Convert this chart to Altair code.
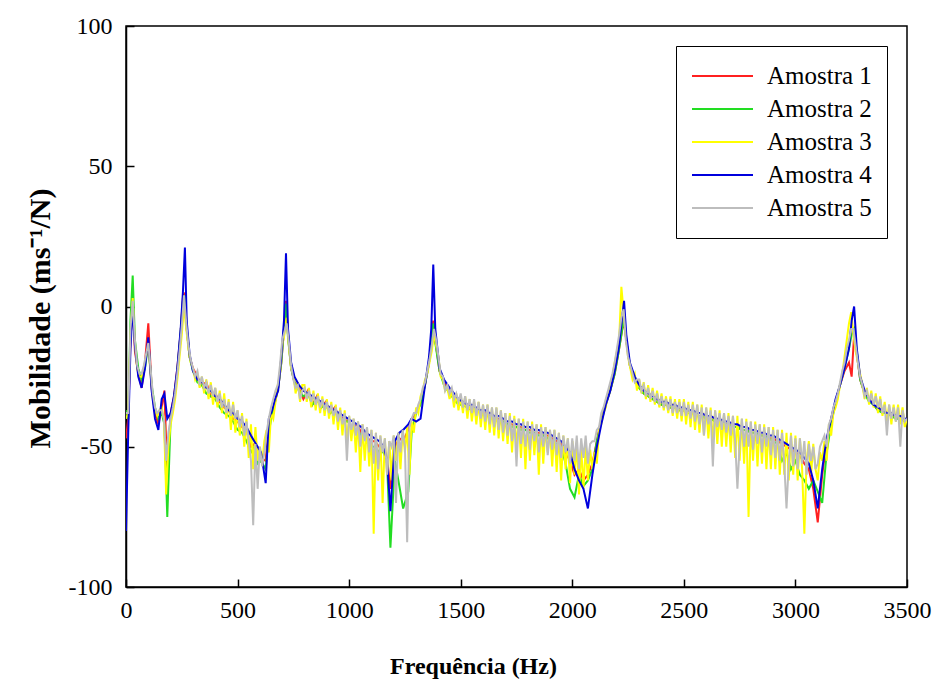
import altair as alt
import pandas as pd

# ---------------- data ----------------
names = ["Amostra 1", "Amostra 2", "Amostra 3", "Amostra 4", "Amostra 5"]
colors = ["#ff2020", "#22dd22", "#ffff00", "#0000dd", "#bdbdbd"]

x_ticks = [0, 500, 1000, 1500, 2000, 2500, 3000, 3500]
y_ticks = [-100, -50, 0, 50, 100]

# coarse frequency grid (Amostra 1, 2, 4)
freq = [
    0, 10, 20, 30, 40, 55, 70, 85, 100, 115,
    130, 145, 160, 172, 185, 200, 215, 230, 245, 255,
    264, 272, 285, 300, 320, 340, 360, 380, 400, 420,
    440, 460, 480, 500, 520, 540, 560, 575, 590, 605,
    626, 640, 655, 668, 682, 696, 708, 717, 726, 740,
    755, 775, 795, 815, 835, 855, 875, 895, 915, 935,
    955, 975, 995, 1015, 1035, 1055, 1075, 1095, 1115, 1135,
    1155, 1170, 1185, 1205, 1225, 1242, 1265, 1280, 1300, 1320,
    1340, 1358, 1368, 1377, 1386, 1405, 1425, 1450, 1470, 1490,
    1510, 1530, 1550, 1570, 1590, 1610, 1630, 1650, 1670, 1690,
    1710, 1730, 1750, 1770, 1790, 1810, 1830, 1850, 1870, 1890,
    1910, 1930, 1950, 1970, 1990, 2010, 2030, 2050, 2070, 2090,
    2110, 2130, 2150, 2170, 2190, 2208, 2222, 2232, 2242, 2258,
    2280, 2300, 2320, 2340, 2360, 2380, 2400, 2420, 2440, 2460,
    2480, 2500, 2520, 2540, 2560, 2580, 2600, 2620, 2640, 2660,
    2680, 2700, 2720, 2740, 2760, 2780, 2800, 2820, 2840, 2860,
    2880, 2900, 2920, 2940, 2960, 2980, 3000, 3020, 3040, 3060,
    3080, 3100, 3120, 3140, 3160, 3180, 3200, 3220, 3240, 3252,
    3263, 3275, 3290, 3310, 3330, 3350, 3370, 3390, 3410, 3430,
    3450, 3470, 3490, 3500,
]

# dense frequency grid (Amostra 3, 5), one line per 100 Hz
freq_dense = [
    0, 10, 20, 30, 40, 50, 60, 70, 80, 90,
    100, 110, 120, 130, 140, 150, 160, 170, 180, 190,
    200, 210, 220, 230, 240, 250, 260, 270, 280, 290,
    300, 310, 320, 330, 340, 350, 360, 370, 380, 390,
    400, 410, 420, 430, 440, 450, 460, 470, 480, 490,
    500, 510, 520, 530, 540, 550, 560, 570, 580, 590,
    600, 610, 620, 630, 640, 650, 660, 670, 680, 690,
    700, 710, 720, 730, 740, 750, 760, 770, 780, 790,
    800, 810, 820, 830, 840, 850, 860, 870, 880, 890,
    900, 910, 920, 930, 940, 950, 960, 970, 980, 990,
    1000, 1010, 1020, 1030, 1040, 1050, 1060, 1070, 1080, 1090,
    1100, 1110, 1120, 1130, 1140, 1150, 1160, 1170, 1180, 1190,
    1200, 1210, 1220, 1230, 1240, 1250, 1260, 1270, 1280, 1290,
    1300, 1310, 1320, 1330, 1340, 1350, 1360, 1370, 1380, 1390,
    1400, 1410, 1420, 1430, 1440, 1450, 1460, 1470, 1480, 1490,
    1500, 1510, 1520, 1530, 1540, 1550, 1560, 1570, 1580, 1590,
    1600, 1610, 1620, 1630, 1640, 1650, 1660, 1670, 1680, 1690,
    1700, 1710, 1720, 1730, 1740, 1750, 1760, 1770, 1780, 1790,
    1800, 1810, 1820, 1830, 1840, 1850, 1860, 1870, 1880, 1890,
    1900, 1910, 1920, 1930, 1940, 1950, 1960, 1970, 1980, 1990,
    2000, 2010, 2020, 2030, 2040, 2050, 2060, 2070, 2080, 2090,
    2100, 2110, 2120, 2130, 2140, 2150, 2160, 2170, 2180, 2190,
    2200, 2210, 2220, 2230, 2240, 2250, 2260, 2270, 2280, 2290,
    2300, 2310, 2320, 2330, 2340, 2350, 2360, 2370, 2380, 2390,
    2400, 2410, 2420, 2430, 2440, 2450, 2460, 2470, 2480, 2490,
    2500, 2510, 2520, 2530, 2540, 2550, 2560, 2570, 2580, 2590,
    2600, 2610, 2620, 2630, 2640, 2650, 2660, 2670, 2680, 2690,
    2700, 2710, 2720, 2730, 2740, 2750, 2760, 2770, 2780, 2790,
    2800, 2810, 2820, 2830, 2840, 2850, 2860, 2870, 2880, 2890,
    2900, 2910, 2920, 2930, 2940, 2950, 2960, 2970, 2980, 2990,
    3000, 3010, 3020, 3030, 3040, 3050, 3060, 3070, 3080, 3090,
    3100, 3110, 3120, 3130, 3140, 3150, 3160, 3170, 3180, 3190,
    3200, 3210, 3220, 3230, 3240, 3250, 3260, 3270, 3280, 3290,
    3300, 3310, 3320, 3330, 3340, 3350, 3360, 3370, 3380, 3390,
    3400, 3410, 3420, 3430, 3440, 3450, 3460, 3470, 3480, 3490,
    3500,
]

amostra1 = [
    -47, -40, -12, 1, -16, -24, -29, -20, -6, -29,
    -38, -42, -36, -30, -60, -38, -32, -22, -9, 3,
    5, -8, -18, -22, -25, -28, -27, -32, -31, -34,
    -36, -37, -40, -41, -43, -44, -50, -49, -52, -54,
    -55, -42, -38, -34, -29, -20, -8, 2, -10, -22,
    -27, -29, -33, -30, -35, -32, -36, -34, -38, -36,
    -39, -40, -41, -43, -42, -45, -46, -48, -48, -50,
    -50, -54, -65, -50, -47, -48, -44, -40, -38, -34,
    -28, -20, -12, -5, -12, -23, -27, -30, -32, -34,
    -35, -36, -36, -37, -38, -38, -39, -40, -40, -41,
    -42, -42, -43, -43, -44, -44, -45, -45, -46, -46,
    -47, -48, -49, -52, -55, -60, -58, -62, -60, -56,
    -48, -40, -35, -30, -24, -16, -9, -5, -12, -21,
    -26, -29, -31, -32, -33, -34, -35, -35, -36, -36,
    -37, -37, -38, -38, -39, -39, -40, -40, -41, -41,
    -42, -42, -43, -43, -44, -44, -45, -45, -46, -46,
    -47, -47, -48, -49, -50, -51, -52, -53, -56, -58,
    -65, -77, -60, -48, -40, -34, -28, -23, -20, -25,
    -10, -17, -26, -31, -33, -35, -37, -37, -38, -39,
    -39, -40, -40, -41,
]

amostra2 = [
    -37, -40, -5, 11, -12, -22, -26, -22, -13, -28,
    -36, -40, -38, -42, -75, -40, -33, -23, -9, 2,
    4, -8, -18, -23, -27, -28, -31, -32, -33, -36,
    -38, -39, -41, -44, -45, -48, -52, -50, -56, -55,
    -58, -45, -38, -34, -29, -20, -8, 1, -11, -22,
    -27, -30, -32, -31, -35, -33, -36, -35, -38, -37,
    -39, -41, -41, -43, -44, -46, -47, -50, -50, -52,
    -52, -56, -86, -55, -64, -72, -66, -45, -38, -35,
    -28, -20, -12, -6, -13, -23, -28, -31, -33, -35,
    -35, -36, -37, -37, -38, -39, -39, -40, -41, -41,
    -42, -43, -43, -44, -44, -45, -45, -46, -46, -47,
    -48, -49, -50, -56, -65, -68, -60, -64, -62, -58,
    -48, -41, -35, -30, -24, -16, -9, -4, -12, -21,
    -26, -29, -31, -32, -33, -34, -35, -35, -36, -36,
    -37, -37, -38, -38, -39, -39, -40, -40, -41, -41,
    -42, -42, -43, -43, -44, -44, -45, -45, -46, -46,
    -47, -48, -49, -55, -52, -58, -55, -60, -62, -65,
    -62, -66, -70, -52, -42, -34, -28, -22, -15, -10,
    -8, -16, -26, -31, -34, -35, -37, -38, -38, -39,
    -40, -40, -41, -41,
]

amostra3 = [
    -40, -38, -10, 3, -13, -22, -25, -25, -22, -18,
    -14, -24, -33, -37, -39, -37, -36, -40, -67, -50,
    -42, -38, -33, -26, -18, -10, 0, -8, -15, -20,
    -22, -26, -24, -29, -25, -31, -26, -33, -27, -35,
    -29, -36, -30, -38, -31, -40, -33, -44, -34, -45,
    -37, -46, -38, -50, -40, -54, -42, -58, -43, -55,
    -50, -56, -48, -44, -52, -38, -40, -34, -28, -24,
    -14, -10, -4, -14, -22, -24, -31, -27, -34, -28,
    -28, -34, -29, -36, -30, -37, -31, -38, -32, -39,
    -33, -40, -34, -42, -35, -44, -36, -46, -37, -48,
    -39, -48, -40, -52, -41, -59, -42, -55, -43, -57,
    -44, -81, -45, -62, -46, -70, -47, -60, -48, -62,
    -46, -55, -45, -58, -44, -52, -43, -60, -41, -45,
    -36, -38, -32, -30, -26, -24, -20, -16, -10, -14,
    -18, -25, -26, -30, -29, -33, -30, -36, -31, -37,
    -32, -38, -32, -40, -33, -41, -34, -42, -34, -43,
    -35, -44, -35, -45, -36, -46, -36, -47, -37, -48,
    -38, -49, -38, -52, -39, -50, -40, -54, -40, -58,
    -41, -55, -41, -53, -42, -60, -42, -56, -43, -52,
    -44, -57, -44, -59, -45, -62, -46, -58, -47, -63,
    -48, -60, -49, -67, -50, -65, -50, -62, -51, -58,
    -52, -56, -44, -42, -38, -36, -31, -28, -25, -20,
    -16, -12, 7, -2, -11, -18, -22, -26, -24, -30,
    -26, -31, -27, -33, -28, -34, -29, -35, -30, -36,
    -31, -37, -32, -38, -32, -39, -33, -40, -33, -41,
    -33, -42, -34, -43, -34, -44, -35, -45, -35, -46,
    -36, -47, -36, -48, -37, -49, -37, -50, -38, -50,
    -38, -52, -39, -54, -39, -55, -40, -56, -40, -75,
    -41, -55, -41, -57, -42, -56, -42, -58, -43, -58,
    -43, -58, -44, -60, -44, -60, -45, -62, -45, -60,
    -46, -62, -47, -58, -81, -55, -48, -60, -49, -58,
    -62, -52, -55, -48, -55, -42, -46, -38, -36, -33,
    -28, -24, -18, -12, -6, -2, -10, -16, -20, -24,
    -28, -33, -29, -35, -30, -36, -31, -38, -32, -39,
    -34, -41, -35, -42, -35, -41, -35, -42, -36, -43,
    -40,
]

amostra4 = [
    -80, -45, -15, 0, -14, -25, -29, -22, -11, -30,
    -40, -44, -33, -31, -40, -38, -32, -22, -8, 5,
    21, -5, -17, -23, -26, -27, -29, -30, -32, -33,
    -35, -37, -38, -40, -41, -43, -46, -48, -50, -52,
    -63, -40, -37, -33, -30, -18, -5, 19, -8, -20,
    -25, -28, -30, -31, -32, -33, -34, -35, -36, -37,
    -38, -39, -40, -41, -42, -43, -45, -46, -47, -48,
    -50, -55, -73, -48, -45, -44, -42, -40, -41, -40,
    -28, -18, -8, 15, -8, -22, -26, -29, -31, -33,
    -34, -35, -35, -36, -37, -37, -38, -39, -39, -40,
    -41, -41, -42, -42, -43, -43, -44, -44, -45, -45,
    -46, -47, -48, -50, -52, -58, -62, -65, -72, -60,
    -50, -42, -35, -30, -23, -15, -5, 2, -10, -20,
    -25, -28, -30, -31, -32, -33, -34, -34, -35, -35,
    -36, -36, -37, -37, -38, -38, -39, -39, -40, -40,
    -41, -41, -42, -42, -43, -43, -44, -44, -45, -45,
    -46, -46, -47, -48, -49, -50, -51, -52, -54, -56,
    -62, -72, -58, -47, -40, -33, -28, -22, -15, -5,
    0, -15, -25, -30, -33, -35, -36, -37, -38, -38,
    -39, -39, -40, -40,
]

amostra5 = [
    -38, -38, -8, 2, -12, -21, -24, -24, -21, -17,
    -13, -22, -31, -36, -38, -37, -37, -40, -55, -45,
    -40, -36, -31, -24, -16, -7, 4, -6, -14, -19,
    -22, -25, -23, -28, -25, -29, -27, -31, -28, -32,
    -29, -34, -31, -36, -33, -38, -34, -39, -35, -40,
    -37, -43, -39, -46, -41, -48, -55, -78, -49, -65,
    -50, -57, -52, -45, -40, -36, -33, -30, -28, -21,
    -12, -9, -6, -13, -21, -26, -29, -28, -33, -30,
    -29, -33, -30, -34, -31, -35, -32, -36, -33, -37,
    -34, -38, -35, -39, -36, -41, -37, -42, -38, -55,
    -39, -44, -40, -46, -41, -50, -42, -48, -43, -52,
    -44, -56, -45, -58, -46, -52, -47, -60, -48, -50,
    -46, -70, -45, -52, -44, -50, -84, -43, -40, -38,
    -38, -35, -33, -29, -27, -23, -19, -14, -8, -12,
    -18, -24, -25, -30, -28, -31, -29, -33, -31, -34,
    -31, -36, -32, -37, -33, -38, -33, -39, -34, -40,
    -35, -41, -35, -42, -36, -43, -36, -44, -37, -45,
    -38, -46, -39, -48, -40, -57, -40, -49, -41, -50,
    -41, -51, -42, -48, -42, -52, -43, -50, -43, -53,
    -44, -51, -44, -53, -45, -54, -46, -52, -47, -56,
    -47, -55, -46, -58, -47, -54, -46, -56, -49, -48,
    -48, -44, -43, -38, -36, -33, -30, -27, -24, -20,
    -15, -10, -4, -1, -12, -18, -21, -24, -27, -26,
    -26, -30, -28, -32, -29, -33, -30, -34, -31, -35,
    -32, -36, -33, -37, -33, -38, -34, -38, -34, -39,
    -34, -39, -35, -40, -35, -41, -35, -42, -36, -46,
    -36, -42, -37, -57, -37, -43, -38, -44, -38, -45,
    -39, -46, -39, -48, -65, -49, -40, -50, -41, -50,
    -41, -51, -42, -49, -42, -52, -43, -50, -43, -53,
    -44, -54, -44, -55, -45, -56, -72, -56, -46, -57,
    -47, -58, -47, -56, -48, -60, -49, -55, -50, -58,
    -56, -50, -48, -46, -50, -42, -40, -36, -34, -31,
    -27, -23, -20, -15, -12, -8, -8, -14, -20, -25,
    -28, -32, -30, -34, -31, -35, -32, -36, -33, -38,
    -35, -46, -35, -40, -36, -41, -36, -50, -37, -41,
    -40,
]

series = [
    (names[0], freq, amostra1),
    (names[1], freq, amostra2),
    (names[2], freq_dense, amostra3),
    (names[3], freq, amostra4),
    (names[4], freq_dense, amostra5),
]

frames = {}
for name, fr, vals in series:
    frames[name] = pd.DataFrame(
        {"Frequência": fr[: len(vals)], "Mobilidade": vals[: len(fr)], "Amostra": name}
    )
df_all = pd.concat(list(frames.values()), ignore_index=True)

# ---------------- chart ----------------
FONT = "Liberation Serif"
x_scale = alt.Scale(domain=[0, 3500], nice=False, zero=False)
y_scale = alt.Scale(domain=[-100, 100], nice=False, zero=False)

x_axis = alt.Axis(
    orient="bottom", values=x_ticks, ticks=False, tickSize=0, grid=False,
    labelFont=FONT, labelFontSize=24, labelColor="black", labelPadding=11,
    labelExpr="'' + datum.value", labelFlush=False,
    domainColor="black", domainWidth=1.5,
    title="Frequência (Hz)", titleFont=FONT, titleFontSize=24,
    titleFontWeight="bold", titleColor="black",
    titleX=347, titleY=86, titleAlign="center", titleBaseline="alphabetic",
)
y_axis = alt.Axis(
    orient="left", values=y_ticks, ticks=False, tickSize=0, grid=False,
    labelFont=FONT, labelFontSize=24, labelColor="black", labelPadding=14,
    labelExpr="'' + datum.value", labelFlush=False,
    domainColor="black", domainWidth=1.5,
    title="Mobilidade  (ms⁻¹/N)", titleFont=FONT, titleFontSize=30,
    titleFontWeight="bold", titleColor="black", titleAngle=270,
    titleX=-77, titleY=292, titleAlign="center", titleBaseline="alphabetic",
)
legend = alt.Legend(
    title=None, orient="top-right", offset=20, padding=15,
    strokeColor="black", fillColor="white",
    labelFont=FONT, labelFontSize=25, labelColor="black", labelLimit=400,
    symbolType="stroke", symbolSize=3721, symbolStrokeWidth=2,
    clipHeight=30, rowPadding=3, labelOffset=13,
)
color_enc = alt.Color(
    "Amostra:N", scale=alt.Scale(domain=names, range=colors), legend=legend
)

layers = []
for name in names:
    layers.append(
        alt.Chart(frames[name]).mark_line(strokeWidth=2, clip=True).encode(
            x=alt.X("Frequência:Q", scale=x_scale, axis=x_axis),
            y=alt.Y("Mobilidade:Q", scale=y_scale, axis=y_axis),
            color=color_enc,
        )
    )
main = alt.layer(*layers)

tick_layer = alt.Chart(df_all).mark_line(opacity=0).encode(
    x=alt.X(
        "Frequência:Q", scale=x_scale,
        axis=alt.Axis(
            orient="bottom", offset=-8, values=x_ticks, ticks=True, tickSize=8,
            tickWidth=1.5, tickColor="black", labels=False, domain=False,
            grid=False, title=None,
        ),
    ),
    y=alt.Y(
        "Mobilidade:Q", scale=y_scale,
        axis=alt.Axis(
            orient="left", offset=-8, values=y_ticks, ticks=True, tickSize=8,
            tickWidth=1.5, tickColor="black", labels=False, domain=False,
            grid=False, title=None,
        ),
    ),
    detail="Amostra:N",
)

chart = (
    alt.layer(main, tick_layer)
    .resolve_axis(x="independent", y="independent")
    .properties(
        width=781, height=561,
        autosize=alt.AutoSizeParams(type="none"),
        padding={"left": 126, "top": 26, "right": 27, "bottom": 95},
        background="white",
    )
    .configure_view(stroke="black", strokeWidth=1.5)
)

chart.save("out.html", embed_options={"renderer": "svg", "actions": False})
